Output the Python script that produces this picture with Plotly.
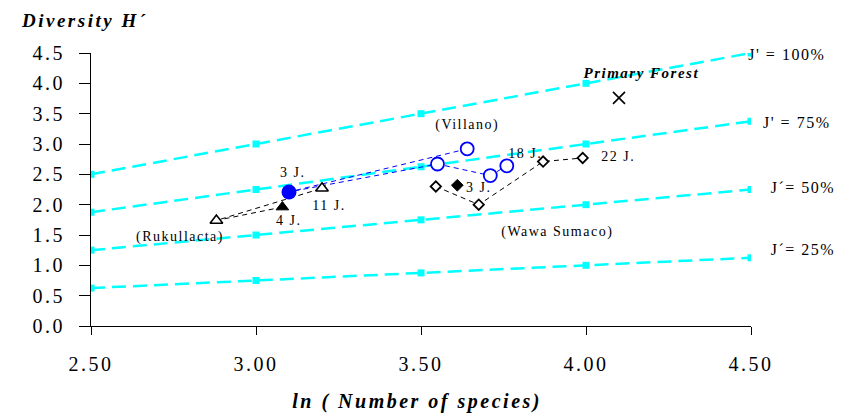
import plotly.graph_objects as go

# ---------------- data ----------------
ln_s = [2.5, 3.0, 3.5, 4.0, 4.5]
j100 = [2.5, 3.0, 3.5, 4.0, 4.5]
j75 = [1.875, 2.25, 2.625, 3.0, 3.375]
j50 = [1.25, 1.5, 1.75, 2.0, 2.25]
j25 = [0.625, 0.75, 0.875, 1.0, 1.125]
j_labels = ["J' = 100%", "J' = 75%", "J\u00b4= 50%", "J\u00b4= 25%"]

# Rukullacta (triangles): Rukullacta start, 4 J., 11 J.
ruk_x = [2.88, 3.08, 3.20]
ruk_y = [1.74, 1.96, 2.27]
ruk_filled = [False, True, False]

# Villano (circles): 3 J. (filled), then open circles
vil_x = [3.10, 3.55, 3.64, 3.71, 3.76]
vil_y = [2.21, 2.67, 2.92, 2.48, 2.64]
vil_filled = [True, False, False, False, False]

# Wawa Sumaco (diamonds)
wawa_x = [3.545, 3.61, 3.675, 3.87, 3.99]
wawa_y = [2.30, 2.32, 2.00, 2.71, 2.77]
wawa_filled = [False, True, False, False, False]

# Primary forest
pf_x = [4.10]
pf_y = [3.76]

x_ticks = [2.5, 3.0, 3.5, 4.0, 4.5]
x_ticklabels = ["2.50", "3.00", "3.50", "4.00", "4.50"]
y_ticks = [0.0, 0.5, 1.0, 1.5, 2.0, 2.5, 3.0, 3.5, 4.0, 4.5]

FONT = "Liberation Serif, Times New Roman, serif"
CYAN = "#00FFFF"
BLUE = "#0000FF"

fig = go.Figure()

# evenness reference lines
for ys in [j100, j75, j50, j25]:
    fig.add_trace(go.Scatter(
        x=ln_s, y=ys, mode="lines+markers",
        line=dict(color=CYAN, width=2.5, dash="14px,7px"),
        marker=dict(symbol="square", size=7, color=CYAN),
        showlegend=False, hoverinfo="skip"))

# Rukullacta connecting lines (from start to 4 J. and to 11 J.)
fig.add_trace(go.Scatter(
    x=[ruk_x[1], ruk_x[0], ruk_x[2]], y=[ruk_y[1], ruk_y[0], ruk_y[2]],
    mode="lines", line=dict(color="black", width=1, dash="5px,4px"),
    showlegend=False, hoverinfo="skip"))

# Villano connecting lines
vil_order = [2, 0, 1, 3, 4]
fig.add_trace(go.Scatter(
    x=[vil_x[i] for i in vil_order], y=[vil_y[i] for i in vil_order],
    mode="lines", line=dict(color=BLUE, width=1, dash="5px,4px"),
    showlegend=False, hoverinfo="skip"))

# Wawa Sumaco connecting line
wawa_order = [0, 2, 3, 4]
fig.add_trace(go.Scatter(
    x=[wawa_x[i] for i in wawa_order], y=[wawa_y[i] for i in wawa_order],
    mode="lines", line=dict(color="black", width=1, dash="5px,4px"),
    showlegend=False, hoverinfo="skip"))


def split(xs, ys, flags, want):
    return ([x for x, f in zip(xs, flags) if f == want],
            [y for y, f in zip(ys, flags) if f == want])


# Rukullacta markers
ox, oy = split(ruk_x, ruk_y, ruk_filled, False)
fx, fy = split(ruk_x, ruk_y, ruk_filled, True)
fig.add_trace(go.Scatter(x=ox, y=oy, mode="markers",
                         marker=dict(symbol="triangle-up", size=11, color="white",
                                     line=dict(color="black", width=1.6)),
                         showlegend=False, hoverinfo="skip"))
fig.add_trace(go.Scatter(x=fx, y=fy, mode="markers",
                         marker=dict(symbol="triangle-up", size=11, color="black",
                                     line=dict(color="black", width=1)),
                         showlegend=False, hoverinfo="skip"))

# Villano markers
ox, oy = split(vil_x, vil_y, vil_filled, False)
fx, fy = split(vil_x, vil_y, vil_filled, True)
fig.add_trace(go.Scatter(x=ox, y=oy, mode="markers",
                         marker=dict(symbol="circle", size=13, color="white",
                                     line=dict(color=BLUE, width=1.8)),
                         showlegend=False, hoverinfo="skip"))
fig.add_trace(go.Scatter(x=fx, y=fy, mode="markers",
                         marker=dict(symbol="circle", size=15, color=BLUE,
                                     line=dict(color=BLUE, width=0)),
                         showlegend=False, hoverinfo="skip"))

# Wawa Sumaco markers
ox, oy = split(wawa_x, wawa_y, wawa_filled, False)
fx, fy = split(wawa_x, wawa_y, wawa_filled, True)
fig.add_trace(go.Scatter(x=ox, y=oy, mode="markers",
                         marker=dict(symbol="diamond", size=8, color="white",
                                     line=dict(color="black", width=1.8)),
                         showlegend=False, hoverinfo="skip"))
fig.add_trace(go.Scatter(x=fx, y=fy, mode="markers",
                         marker=dict(symbol="diamond", size=9, color="black",
                                     line=dict(color="black", width=1)),
                         showlegend=False, hoverinfo="skip"))

# Primary forest
fig.add_trace(go.Scatter(
    x=pf_x, y=pf_y, mode="markers",
    marker=dict(symbol="x-thin-open", size=12, color="black",
                line=dict(color="black", width=1.6)),
    showlegend=False, hoverinfo="skip"))

# ---------------- annotations ----------------
ann = []
small = dict(family=FONT, size=14, color="black")
point_labels = [
    ("3 J.", 3.112, 2.525),
    ("11 J.", 3.221, 1.98),
    ("4 J.", 3.097, 1.733),
    ("(Rukullacta)", 2.770, 1.469),
    ("(Villano)", 3.642, 3.317),
    ("18 J.", 3.815, 2.838),
    ("3 J.", 3.673, 2.277),
    ("22 J.", 4.097, 2.789),
    ("(Wawa Sumaco)", 3.915, 1.551),
]
for t, x, y in point_labels:
    ann.append(dict(text=t, x=x, y=y, xref="x", yref="y", showarrow=False,
                    font=small, xanchor="center", yanchor="middle"))

ann.append(dict(text="<b><i>Primary Forest</i></b>", x=4.167, y=4.175, xref="x", yref="y",
                showarrow=False, font=dict(family=FONT, size=15, color="black"),
                xanchor="center", yanchor="middle"))

# evenness labels at the right, outside the plotting area (paper coordinates)
j_pos = [(1.003, 0.996), (1.024, 0.744), (1.035, 0.509), (1.035, 0.282)]
for t, (x, y) in zip(j_labels, j_pos):
    ann.append(dict(text=t, x=x, y=y, xref="paper", yref="paper", showarrow=False,
                    font=dict(family=FONT, size=16, color="black"),
                    xanchor="left", yanchor="middle"))

ann.append(dict(text="<b><i>Diversity H\u00b4</i></b>", x=-0.0106, y=1.118,
                xref="paper", yref="paper", showarrow=False,
                font=dict(family=FONT, size=19, color="black"),
                xanchor="center", yanchor="middle"))
ann.append(dict(text="<b><i>ln ( Number of species)</i></b>", x=0.494, y=-0.277,
                xref="paper", yref="paper", showarrow=False,
                font=dict(family=FONT, size=20, color="black"),
                xanchor="center", yanchor="middle"))

fig.update_layout(
    width=848, height=414,
    margin=dict(l=91, r=97, t=53, b=88),
    paper_bgcolor="white", plot_bgcolor="white",
    annotations=ann,
    xaxis=dict(range=[2.5, 4.5], tickvals=x_ticks, ticktext=x_ticklabels,
               showgrid=False, zeroline=False, showline=True, linecolor="black",
               linewidth=1, ticks="outside", ticklen=8, tickcolor="black",
               tickfont=dict(family=FONT, size=20, color="black"),
               ticklabelstandoff=12),
    yaxis=dict(range=[0, 4.5], tickvals=y_ticks, tickformat=".1f",
               showgrid=False, zeroline=False, showline=True, linecolor="black",
               linewidth=1, ticks="outside", ticklen=11, tickcolor="black",
               tickfont=dict(family=FONT, size=20, color="black"),
               ticklabelstandoff=10),
)

post = """
document.body.style.margin = '0';
document.body.style.padding = '0';
document.querySelectorAll('.main-svg text').forEach(function(t){
  var fs = parseFloat(t.style.fontSize || '14');
  t.style.letterSpacing = (fs >= 18 ? '2.5px' : '1.5px');
});
"""
fig.write_html("out.html", post_script=post, config={"displayModeBar": False})
